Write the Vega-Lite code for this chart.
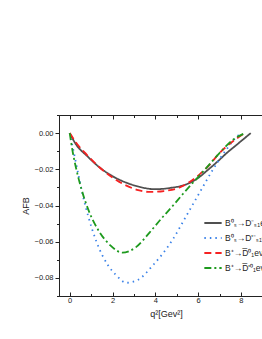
{
  "$schema": "https://vega.github.io/schema/vega-lite/v6.json",
  "autosize": "none",
  "padding": {"left": 59, "top": 115, "right": 0, "bottom": 43},
  "width": 214,
  "height": 181,
  "config": {
    "font": "Liberation Sans",
    "view": {"stroke": "#222", "strokeWidth": 1},
    "axis": {"domainColor": "#222", "tickColor": "#222", "labelColor": "#222", "labelFont": "Liberation Sans", "labelFontSize": 7.5, "titleFont": "Liberation Sans", "titleFontWeight": "normal", "titleFontSize": 9, "titleColor": "#222", "grid": false}
  },
  "data": {"values": [
    {"s": "B⁰ₛ→D⁻ₛ₁eν", "q": 0, "a": 0},
    {"s": "B⁰ₛ→D⁻ₛ₁eν", "q": 0.31, "a": -0.0065},
    {"s": "B⁰ₛ→D⁻ₛ₁eν", "q": 0.8, "a": -0.0125},
    {"s": "B⁰ₛ→D⁻ₛ₁eν", "q": 1.4, "a": -0.019},
    {"s": "B⁰ₛ→D⁻ₛ₁eν", "q": 2.0, "a": -0.0238},
    {"s": "B⁰ₛ→D⁻ₛ₁eν", "q": 2.65, "a": -0.0274},
    {"s": "B⁰ₛ→D⁻ₛ₁eν", "q": 3.3, "a": -0.0298},
    {"s": "B⁰ₛ→D⁻ₛ₁eν", "q": 3.97, "a": -0.031},
    {"s": "B⁰ₛ→D⁻ₛ₁eν", "q": 4.7, "a": -0.0303},
    {"s": "B⁰ₛ→D⁻ₛ₁eν", "q": 5.45, "a": -0.0283},
    {"s": "B⁰ₛ→D⁻ₛ₁eν", "q": 6.0, "a": -0.0248},
    {"s": "B⁰ₛ→D⁻ₛ₁eν", "q": 6.39, "a": -0.021},
    {"s": "B⁰ₛ→D⁻ₛ₁eν", "q": 6.9, "a": -0.0158},
    {"s": "B⁰ₛ→D⁻ₛ₁eν", "q": 7.32, "a": -0.0112},
    {"s": "B⁰ₛ→D⁻ₛ₁eν", "q": 7.9, "a": -0.0055},
    {"s": "B⁰ₛ→D⁻ₛ₁eν", "q": 8.46, "a": 0},

    {"s": "B⁰ₛ→D'⁻ₛ₁eν", "q": 0, "a": 0},
    {"s": "B⁰ₛ→D'⁻ₛ₁eν", "q": 0.12, "a": -0.0065},
    {"s": "B⁰ₛ→D'⁻ₛ₁eν", "q": 0.39, "a": -0.022},
    {"s": "B⁰ₛ→D'⁻ₛ₁eν", "q": 0.62, "a": -0.0347},
    {"s": "B⁰ₛ→D'⁻ₛ₁eν", "q": 0.86, "a": -0.0457},
    {"s": "B⁰ₛ→D'⁻ₛ₁eν", "q": 1.25, "a": -0.060},
    {"s": "B⁰ₛ→D'⁻ₛ₁eν", "q": 1.79, "a": -0.073},
    {"s": "B⁰ₛ→D'⁻ₛ₁eν", "q": 2.18, "a": -0.0786},
    {"s": "B⁰ₛ→D'⁻ₛ₁eν", "q": 2.65, "a": -0.0827},
    {"s": "B⁰ₛ→D'⁻ₛ₁eν", "q": 3.2, "a": -0.081},
    {"s": "B⁰ₛ→D'⁻ₛ₁eν", "q": 3.89, "a": -0.073},
    {"s": "B⁰ₛ→D'⁻ₛ₁eν", "q": 4.83, "a": -0.0585},
    {"s": "B⁰ₛ→D'⁻ₛ₁eν", "q": 5.45, "a": -0.0457},
    {"s": "B⁰ₛ→D'⁻ₛ₁eν", "q": 6.07, "a": -0.0329},
    {"s": "B⁰ₛ→D'⁻ₛ₁eν", "q": 6.7, "a": -0.020},
    {"s": "B⁰ₛ→D'⁻ₛ₁eν", "q": 7.32, "a": -0.0091},
    {"s": "B⁰ₛ→D'⁻ₛ₁eν", "q": 7.91, "a": -0.001},
    {"s": "B⁰ₛ→D'⁻ₛ₁eν", "q": 8.05, "a": 0},

    {"s": "B⁺→D̅⁰₁eν", "q": 0, "a": 0},
    {"s": "B⁺→D̅⁰₁eν", "q": 0.31, "a": -0.0055},
    {"s": "B⁺→D̅⁰₁eν", "q": 0.8, "a": -0.012},
    {"s": "B⁺→D̅⁰₁eν", "q": 1.4, "a": -0.019},
    {"s": "B⁺→D̅⁰₁eν", "q": 2.0, "a": -0.0245},
    {"s": "B⁺→D̅⁰₁eν", "q": 2.65, "a": -0.029},
    {"s": "B⁺→D̅⁰₁eν", "q": 3.2, "a": -0.0315},
    {"s": "B⁺→D̅⁰₁eν", "q": 3.74, "a": -0.0325},
    {"s": "B⁺→D̅⁰₁eν", "q": 4.4, "a": -0.032},
    {"s": "B⁺→D̅⁰₁eν", "q": 5.14, "a": -0.030},
    {"s": "B⁺→D̅⁰₁eν", "q": 5.6, "a": -0.027},
    {"s": "B⁺→D̅⁰₁eν", "q": 6.07, "a": -0.0228},
    {"s": "B⁺→D̅⁰₁eν", "q": 6.5, "a": -0.018},
    {"s": "B⁺→D̅⁰₁eν", "q": 7.0, "a": -0.011},
    {"s": "B⁺→D̅⁰₁eν", "q": 7.63, "a": -0.0045},
    {"s": "B⁺→D̅⁰₁eν", "q": 8.18, "a": 0},

    {"s": "B⁺→D̅'⁰₁eν", "q": 0, "a": 0},
    {"s": "B⁺→D̅'⁰₁eν", "q": 0.15, "a": -0.011},
    {"s": "B⁺→D̅'⁰₁eν", "q": 0.31, "a": -0.02},
    {"s": "B⁺→D̅'⁰₁eν", "q": 0.55, "a": -0.031},
    {"s": "B⁺→D̅'⁰₁eν", "q": 0.86, "a": -0.042},
    {"s": "B⁺→D̅'⁰₁eν", "q": 1.4, "a": -0.0548},
    {"s": "B⁺→D̅'⁰₁eν", "q": 1.9, "a": -0.062},
    {"s": "B⁺→D̅'⁰₁eν", "q": 2.46, "a": -0.066},
    {"s": "B⁺→D̅'⁰₁eν", "q": 3.1, "a": -0.063},
    {"s": "B⁺→D̅'⁰₁eν", "q": 3.74, "a": -0.0548},
    {"s": "B⁺→D̅'⁰₁eν", "q": 4.3, "a": -0.047},
    {"s": "B⁺→D̅'⁰₁eν", "q": 4.83, "a": -0.040},
    {"s": "B⁺→D̅'⁰₁eν", "q": 5.3, "a": -0.0335},
    {"s": "B⁺→D̅'⁰₁eν", "q": 5.76, "a": -0.0274},
    {"s": "B⁺→D̅'⁰₁eν", "q": 6.39, "a": -0.0192},
    {"s": "B⁺→D̅'⁰₁eν", "q": 7.0, "a": -0.011},
    {"s": "B⁺→D̅'⁰₁eν", "q": 7.63, "a": -0.0037},
    {"s": "B⁺→D̅'⁰₁eν", "q": 8.18, "a": 0}
  ]},
  "layer": [
    {
      "mark": {"type": "line", "interpolate": "monotone", "strokeWidth": 1.8},
      "encoding": {
        "x": {"field": "q", "type": "quantitative", "scale": {"domain": [-0.5, 9.5], "nice": false, "zero": false},
          "axis": {"orient": "bottom", "title": "q²[Gev²]", "titlePadding": 6, "values": [0, 1, 2, 3, 4, 5, 6, 7, 8, 9], "labelExpr": "datum.value % 2 == 0 ? datum.label : ''", "tickSize": {"condition": {"test": "datum.value % 2 == 0", "value": -4}, "value": -2.5}, "labelPadding": 4, "format": "d"}},
        "y": {"field": "a", "type": "quantitative", "scale": {"domain": [-0.09, 0.01], "nice": false, "zero": false},
          "axis": {"orient": "left", "title": "AFB", "titlePadding": 4, "values": [0, -0.02, -0.04, -0.06, -0.08], "format": ".2f", "tickSize": 4, "labelPadding": 2}},
        "color": {"field": "s", "type": "nominal", "sort": null,
          "scale": {"domain": ["B⁰ₛ→D⁻ₛ₁eν", "B⁰ₛ→D'⁻ₛ₁eν", "B⁺→D̅⁰₁eν", "B⁺→D̅'⁰₁eν"], "range": ["#505050", "#3b82e8", "#f52222", "#1e9a1e"]},
          "legend": {"title": null, "orient": "none", "legendX": 144, "legendY": 98, "symbolType": "stroke", "symbolSize": 300, "symbolStrokeWidth": 1.8, "labelFontSize": 8.5, "labelFont": "Liberation Sans", "labelColor": "#222", "labelOffset": 2, "rowPadding": -3.4, "padding": 0}},
        "strokeDash": {"field": "s", "type": "nominal", "sort": null,
          "scale": {"domain": ["B⁰ₛ→D⁻ₛ₁eν", "B⁰ₛ→D'⁻ₛ₁eν", "B⁺→D̅⁰₁eν", "B⁺→D̅'⁰₁eν"], "range": [[1, 0], [1.5, 4], [7, 4], [7, 3, 2, 3]]},
          "legend": {"title": null, "orient": "none", "legendX": 144, "legendY": 98, "symbolType": "stroke", "symbolSize": 300, "symbolStrokeWidth": 1.8, "labelFontSize": 8.5, "labelFont": "Liberation Sans", "labelColor": "#222", "labelOffset": 2, "rowPadding": -3.4, "padding": 0}}
      }
    },
    {
      "mark": {"type": "point", "opacity": 0},
      "encoding": {
        "x": {"field": "q", "type": "quantitative", "scale": {"domain": [-0.5, 9.5], "nice": false, "zero": false},
          "axis": {"orient": "top", "title": null, "labels": false, "values": [0, 1, 2, 3, 4, 5, 6, 7, 8, 9], "tickSize": {"condition": {"test": "datum.value % 2 == 0", "value": -4}, "value": -2.5}}},
        "y": {"field": "a", "type": "quantitative", "axis": {"orient": "left", "title": null, "labels": false, "domain": false, "values": [0.01, -0.01, -0.03, -0.05, -0.07, -0.09], "tickSize": 2.5}}
      }
    }
  ],
  "resolve": {"axis": {"x": "independent", "y": "independent"}}
}
